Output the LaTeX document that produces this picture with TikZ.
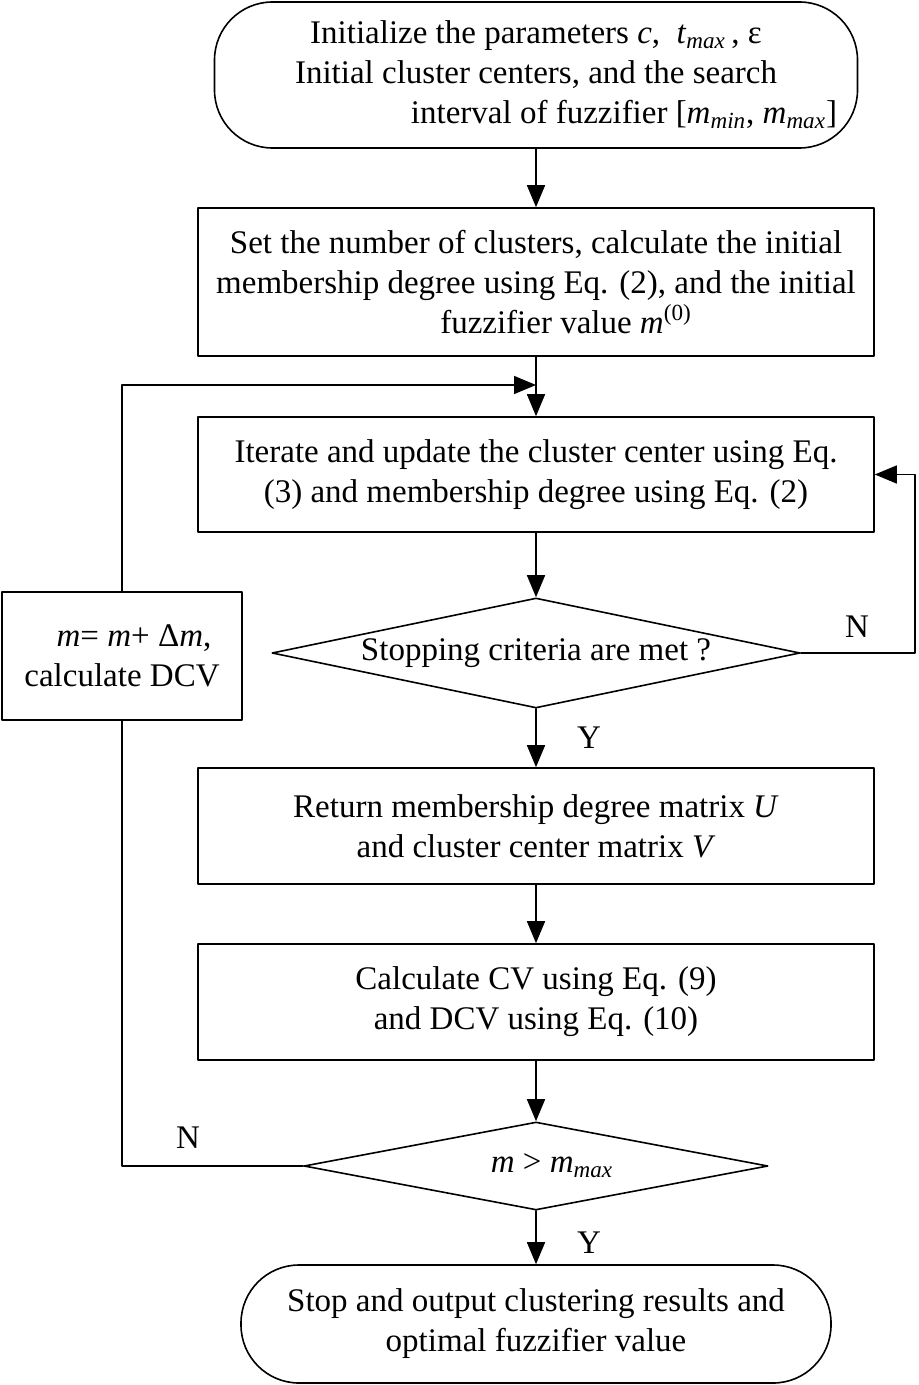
\documentclass[tikz,border=0pt]{standalone}
\usepackage{fontspec}
\setmainfont{Liberation Serif}
\usepackage{tikz}
\usetikzlibrary{arrows.meta,shapes.geometric}

\newcommand{\vm}{\textit{m}}

\begin{document}
\begin{tikzpicture}[x=0.5pt,y=-0.5pt,line cap=round,line join=round,>={Triangle[length=11pt,width=9pt]},
        every node/.style={font=\fontsize{16.5}{20}\selectfont},
        proc/.style={draw,line width=0.8pt,rectangle,align=center,minimum width=338pt,minimum height=58pt,inner sep=2pt},
        term/.style={draw,line width=0.8pt,rectangle,rounded corners=29pt,align=center,inner sep=2pt},
        dec/.style={draw,line width=0.8pt,diamond,inner sep=0pt},
        flow/.style={line width=0.8pt,->}]
        \useasboundingbox (0,0) rectangle (918,1385);

        % boxes
        \node[term,minimum width=321.5pt,minimum height=73pt] (init) at (536,75) {Initialize the parameters \textit{c},\ \ \textit{t}\textsubscript{\textit{max}}\,, ε\\Initial cluster centers, and the search\\\hspace*{88pt}interval of fuzzifier [\vm\textsubscript{\textit{min}}, \vm\textsubscript{\textit{max}}]};
        \node[proc,minimum height=74pt] (setup) at (536,282) {Set the number of clusters, calculate the initial\\membership degree using Eq. (2), and the initial\\\hspace*{30pt}fuzzifier value \vm\textsuperscript{(0)}};
        \node[proc,minimum height=57.5pt] (iter) at (536,474.5) {Iterate and update the cluster center using Eq.\\(3) and membership degree using Eq. (2)};
        \node[dec,aspect=4.8,minimum width=264pt,minimum height=55pt] (stop) at (536,653) {Stopping criteria are met ?};
        \node[proc] (ret) at (536,826) {Return membership degree matrix \textit{U}\\and cluster center matrix \textit{V}};
        \node[proc] (cv) at (536,1002) {Calculate CV using Eq. (9)\\and DCV using Eq. (10)};
        \node[dec,aspect=5.27,minimum width=232pt,minimum height=44pt] (check) at (536,1166) {\hspace*{16pt}\vm\ > \vm\textsubscript{\textit{max}}};
        \node[term,minimum width=295pt,minimum height=59pt] (out) at (536,1324) {Stop and output clustering results and\\optimal fuzzifier value};
        \node[draw,line width=0.8pt,align=center,minimum width=120pt,minimum height=64pt,inner sep=2pt] (dcv) at (122,656) {\hspace*{12pt}\vm= \vm+ Δ\vm,\\calculate DCV};

        % labels
        \node (n1) at (857,627) {N};
        \node (y1) at (589,738) {Y};
        \node (n2) at (188,1138) {N};
        \node (y2) at (589,1243) {Y};

        \coordinate (join) at (536,385);
        \coordinate (back) at (915,653);

        % connectors
        \draw[flow] (init) -- (setup);
        \draw[flow] (setup) -- (iter);
        \draw[flow] (dcv.north) |- (join);
        \draw[flow] (iter) -- (stop);
        \draw[flow] (stop.east) -- (back) |- (iter.east);
        \draw[flow] (stop) -- (ret);
        \draw[flow] (ret) -- (cv);
        \draw[flow] (cv) -- (check);
        \draw[line width=0.8pt] (check.west) -| (dcv.south);
        \draw[flow] (check) -- (out);
\end{tikzpicture}
\end{document}
